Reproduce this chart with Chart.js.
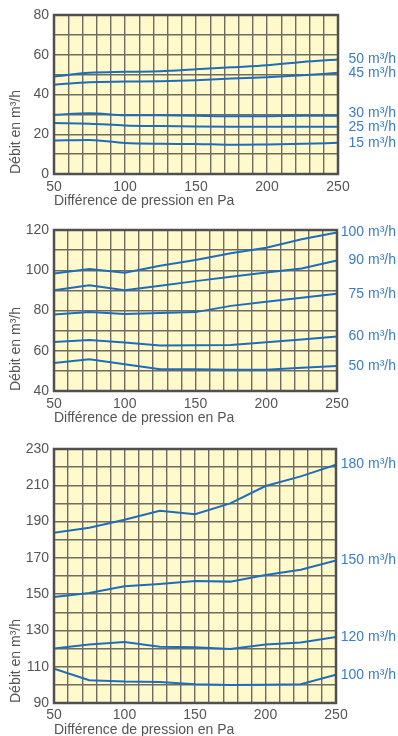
<!DOCTYPE html>
<html>
<head>
<meta charset="utf-8">
<script src="https://cdn.jsdelivr.net/npm/chart.js@4/dist/chart.umd.min.js"></script>
<style>
  html, body { margin:0; padding:0; background:#fff; width:398px; height:736px; overflow:hidden; }
  .box { position:absolute; left:0; width:398px; }
  canvas { display:block; }
</style>
</head>
<body>
<div class="box" style="top:0px"><canvas id="c1" width="398" height="212"></canvas></div>
<div class="box" style="top:212px"><canvas id="c2" width="398" height="215"></canvas></div>
<div class="box" style="top:427px"><canvas id="c3" width="398" height="309"></canvas></div>
<script>
// ---- shared ----
const pressure = [50, 75, 100, 125, 150, 175, 200, 225, 250];
const xTitle = 'Différence de pression en Pa';
const yTitle = 'Débit en m³/h';

// ---- chart 1 ----
const labels1 = ['50 m³/h', '45 m³/h', '30 m³/h', '25 m³/h', '15 m³/h'];
const c1_50 = [49.0, 50.9, 51.4, 51.7, 52.7, 53.7, 54.7, 56.4, 57.6];
const c1_45 = [44.9, 46.2, 46.5, 46.7, 47.2, 48.0, 48.7, 49.7, 50.9];
const c1_30 = [29.8, 30.6, 29.6, 29.5, 29.3, 29.0, 29.1, 29.3, 29.3];
const c1_25 = [25.6, 25.3, 24.4, 24.1, 23.9, 23.8, 23.8, 23.8, 23.8];
const c1_15 = [16.9, 17.1, 15.6, 15.2, 15.1, 14.7, 14.9, 15.2, 15.7];

// ---- chart 2 ----
const labels2 = ['100 m³/h', '90 m³/h', '75 m³/h', '60 m³/h', '50 m³/h'];
const c2_100 = [98.4, 100.6, 98.8, 102.2, 105.1, 108.4, 111.2, 115.4, 118.8];
const c2_90 = [90.0, 92.6, 90.1, 92.3, 94.6, 96.8, 98.9, 100.9, 104.9];
const c2_75 = [78.0, 79.2, 78.2, 78.7, 79.2, 82.3, 84.3, 86.3, 88.3];
const c2_60 = [64.4, 65.4, 64.1, 62.6, 62.7, 62.9, 64.2, 65.6, 67.1];
const c2_50 = [53.9, 55.8, 53.3, 50.8, 50.8, 50.6, 50.6, 51.6, 52.4];

// ---- chart 3 ----
const labels3 = ['180 m³/h', '150 m³/h', '120 m³/h', '100 m³/h'];
const c3_180 = [183.9, 186.6, 191.0, 196.0, 194.0, 200.0, 209.6, 214.9, 221.4];
const c3_150 = [148.4, 150.6, 154.3, 155.6, 157.2, 156.9, 160.5, 163.5, 168.6];
const c3_120 = [120.1, 122.2, 123.6, 121.0, 120.7, 119.8, 122.2, 123.4, 126.4];
const c3_100 = [108.9, 102.5, 101.8, 101.6, 100.3, 99.9, 100.1, 100.3, 105.6];

const FONT = 'Liberation Sans, Arial, Helvetica, sans-serif';
const TXT = '#555555';
const LINE = '#1f6db8';
const LABEL = '#3a7ccc';
const BG = '#fff9cb';
const GRID = '#6e6c62';

const areaPlugin = {
  id: 'area',
  beforeDraw(chart) {
    const a = chart.chartArea, ctx = chart.ctx;
    ctx.save();
    ctx.fillStyle = BG;
    ctx.fillRect(a.left, a.top, a.right - a.left, a.bottom - a.top);
    ctx.restore();
  },
  afterDatasetsDraw(chart) {
    const a = chart.chartArea, ctx = chart.ctx;
    ctx.save();
    ctx.strokeStyle = '#505050';
    ctx.lineWidth = 2.5;
    ctx.strokeRect(a.left, a.top, a.right - a.left, a.bottom - a.top);
    // right-hand labels at last value of each series
    const ys = chart.scales.y;
    const items = chart.data.datasets.map(ds => ({
      text: ds.label,
      y: ys.getPixelForValue(ds.data[ds.data.length - 1].y)
    }));
    items.sort((p, q) => q.y - p.y);
    const gap = 14;
    for (let i = 1; i < items.length; i++) {
      if (items[i].y > items[i - 1].y - gap) items[i].y = items[i - 1].y - gap;
    }
    ctx.fillStyle = LABEL;
    ctx.font = '14px ' + FONT;
    ctx.textAlign = 'right';
    ctx.textBaseline = 'middle';
    items.forEach(it => ctx.fillText(it.text, chart.width - 2, it.y));
    ctx.restore();
  }
};

function makeChart(id, series, names, ymin, ymax, opt) {
  const datasets = series.map((s, i) => ({
    label: names[i],
    data: pressure.map((p, j) => ({ x: p, y: s[j] })),
    borderColor: LINE,
    borderWidth: 2,
    pointRadius: 0,
    fill: false,
    tension: opt.tension,
    cubicInterpolationMode: opt.tension ? 'monotone' : 'default'
  }));
  return new Chart(document.getElementById(id), {
    type: 'line',
    data: { datasets },
    plugins: [areaPlugin],
    options: {
      responsive: false,
      devicePixelRatio: 1,
      animation: false,
      events: [],
      layout: { padding: { top: opt.padTop, right: opt.padRight, left: 0, bottom: 0 } },
      plugins: { legend: { display: false }, tooltip: { enabled: false } },
      scales: {
        x: {
          type: 'linear', min: 50, max: 250,
          afterFit(s) { s.height = opt.xh; },
          grid: { color: GRID, lineWidth: 1.4, drawTicks: false },
          border: { display: false },
          ticks: {
            stepSize: 10, autoSkip: false, maxRotation: 0, padding: opt.tickPad,
            color: TXT, font: { family: FONT, size: 14 },
            callback: v => (v % 50 === 0 ? String(v) : '')
          },
          title: {
            display: true, text: xTitle, align: 'start', color: TXT,
            font: { family: FONT, size: 14 }, padding: { top: 0, bottom: opt.xtPad }
          }
        },
        y: {
          min: ymin, max: ymax,
          afterFit(s) { s.width = opt.left; },
          grid: { color: GRID, lineWidth: 1.4, drawTicks: false },
          border: { display: false },
          ticks: {
            stepSize: 10, autoSkip: false, padding: 5,
            color: TXT, font: { family: FONT, size: 14 },
            callback: v => ((v - ymin) % 20 === 0 ? String(v) : '')
          },
          title: {
            display: true, text: yTitle, align: 'start', color: TXT,
            font: { family: FONT, size: 14 }, padding: { top: 8, bottom: 0 }
          }
        }
      }
    }
  });
}

makeChart('c1', [c1_50, c1_45, c1_30, c1_25, c1_15], labels1, 0, 80,
  { tension: 0.4, padTop: 15, padRight: 60, xh: 38, tickPad: 5, xtPad: 2, left: 54 });
makeChart('c2', [c2_100, c2_90, c2_75, c2_60, c2_50], labels2, 40, 120,
  { tension: 0, padTop: 18, padRight: 61, xh: 36, tickPad: 5, xtPad: 0, left: 54 });
makeChart('c3', [c3_180, c3_150, c3_120, c3_100], labels3, 90, 230,
  { tension: 0, padTop: 22, padRight: 62, xh: 33, tickPad: 4, xtPad: -3, left: 54 });
</script>
</body>
</html>
